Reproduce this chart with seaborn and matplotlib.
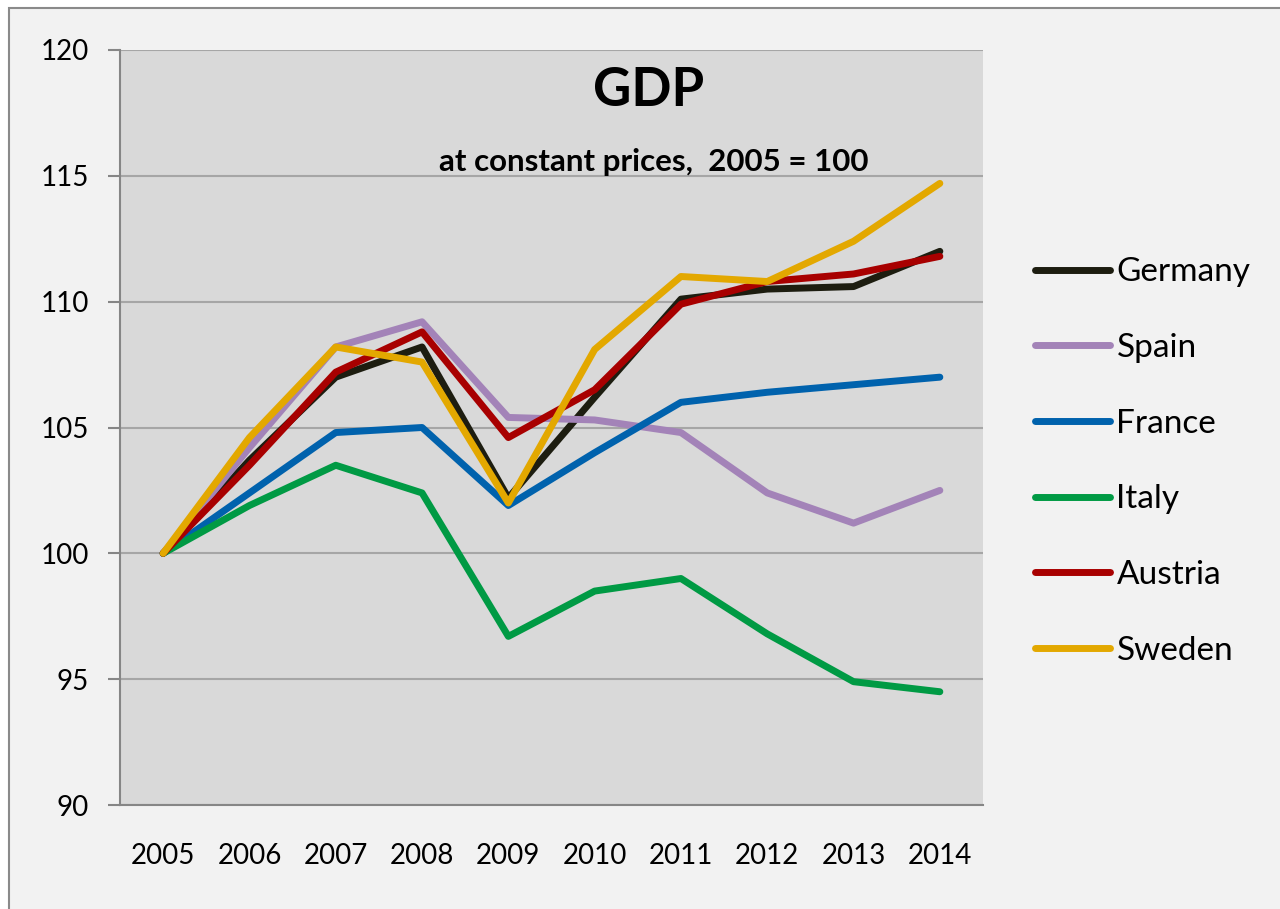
import pandas as pd
import seaborn as sns
import matplotlib.pyplot as plt
from matplotlib.patches import Rectangle
from matplotlib.ticker import MultipleLocator

# ========= DATA =========
years = ["2005", "2006", "2007", "2008", "2009", "2010", "2011", "2012", "2013", "2014"]
countries = ["Germany", "Spain", "France", "Italy", "Austria", "Sweden"]
germany = [100, 103.7, 107.0, 108.2, 102.2, 106.2, 110.1, 110.5, 110.6, 112.0]
spain = [100, 104.2, 108.2, 109.2, 105.4, 105.3, 104.8, 102.4, 101.2, 102.5]
france = [100, 102.4, 104.8, 105.0, 101.9, 104.0, 106.0, 106.4, 106.7, 107.0]
italy = [100, 101.9, 103.5, 102.4, 96.7, 98.5, 99.0, 96.8, 94.9, 94.5]
austria = [100, 103.5, 107.2, 108.8, 104.6, 106.5, 109.9, 110.8, 111.1, 111.8]
sweden = [100, 104.6, 108.2, 107.6, 102.0, 108.1, 111.0, 110.8, 112.4, 114.7]
colors = ["#1d1d10", "#a383b8", "#0062ad", "#009a44", "#a80000", "#e3a800"]

series = [germany, spain, france, italy, austria, sweden]
df = pd.DataFrame({
    "x": list(range(len(years))) * len(countries),
    "gdp": [v for s in series for v in s],
    "country": [c for c in countries for _ in years],
})

# ========= STYLE =========
sns.set_style("white")
plt.rcParams["font.family"] = ["Lato", "DejaVu Sans"]
plt.rcParams["text.color"] = "black"
plt.rcParams["xtick.color"] = "black"
plt.rcParams["ytick.color"] = "black"

fig = plt.figure(figsize=(12.8, 9.09), dpi=100, facecolor="white")
# outer chart frame
fig.patches.append(Rectangle((9 / 1280, -0.01), 1.02, 1 - 8 / 909 + 0.01,
                             transform=fig.transFigure, facecolor="#f2f2f2",
                             edgecolor="#8a8a8a", linewidth=1.5, zorder=-10))
ax = fig.add_axes([120 / 1280, 1 - 805 / 909, 863 / 1280, 755 / 909])
ax.set_facecolor("#d9d9d9")

sns.lineplot(data=df, x="x", y="gdp", hue="country", hue_order=countries,
             palette=colors, linewidth=5, sort=False, ax=ax)

ax.set_xlim(-0.5, 9.5)
ax.set_ylim(90, 120)
ax.yaxis.set_major_locator(MultipleLocator(5))
ax.set_xticks(range(len(years)))
ax.set_xticklabels(years)
ax.set_xticks([i - 0.5 for i in range(len(years) + 1)], minor=True)
ax.tick_params(axis="x", which="major", length=0, pad=27, labelsize=20)
ax.tick_params(axis="x", which="minor", length=11, width=1.5, color="#868686")
ax.tick_params(axis="y", length=8.5, width=1.5, color="#868686", labelcolor="black",
               pad=14, labelsize=20, left=True)
ax.grid(axis="y", color="#a6a6a6", linewidth=1.5)
ax.set_axisbelow(True)
ax.set_xlabel("")
ax.set_ylabel("")
for side in ["top", "right"]:
    ax.spines[side].set_visible(False)
for side in ["left", "bottom"]:
    ax.spines[side].set_color("#868686")
    ax.spines[side].set_linewidth(1.5)

ax.text(0.612, 0.947, "GDP", transform=ax.transAxes, ha="center", va="center",
        fontsize=38, fontweight="bold", color="black")
ax.text(0.618, 0.852, "at constant prices,  2005 = 100", transform=ax.transAxes,
        ha="center", va="center", fontsize=22.5, fontweight="bold", color="black")

ax.legend(loc="center left", bbox_to_anchor=(1.06, 0.455), frameon=False,
          fontsize=24, labelspacing=1.37, handlelength=2.25, handletextpad=0.2,
          borderpad=0, borderaxespad=0)

fig.savefig("out.png", dpi=100, facecolor=fig.get_facecolor())
